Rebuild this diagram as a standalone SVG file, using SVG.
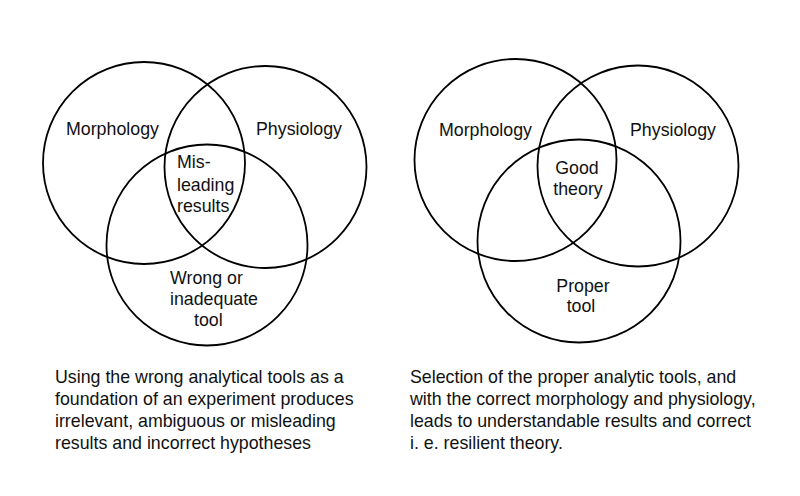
<svg xmlns="http://www.w3.org/2000/svg" width="800" height="496" viewBox="0 0 800 496">
<style>
.c{fill:none;stroke:#000;stroke-width:1.8}
text{font-family:"Liberation Sans",Arial,sans-serif;font-size:17.8px;fill:#111}
.m{text-anchor:middle}
</style>
<rect width="800" height="496" fill="#fff"/>
<g id="left">
<g id="l-morph"><circle class="c" cx="144" cy="163" r="101"/><text x="66" y="135">Morphology</text></g>
<g id="l-phys"><circle class="c" cx="265.5" cy="167" r="101"/><text x="256" y="135">Physiology</text></g>
<g id="l-tool"><circle class="c" cx="207" cy="245" r="100.5"/>
<text x="170" y="284">Wrong or</text><text x="170" y="305">inadequate</text><text x="194" y="326">tool</text></g>
<g id="l-center"><text x="177" y="168">Mis-</text><text x="177" y="191">leading</text><text x="177" y="212">results</text></g>
</g>
<g id="right">
<g id="r-morph"><circle class="c" cx="515.5" cy="160" r="101"/><text x="439" y="136">Morphology</text></g>
<g id="r-phys"><circle class="c" cx="638" cy="166" r="100.5"/><text x="630" y="136">Physiology</text></g>
<g id="r-tool"><circle class="c" cx="579" cy="241" r="101.5"/>
<text class="m" x="583" y="292">Proper</text><text class="m" x="581" y="312">tool</text></g>
<g id="r-center"><text class="m" x="577" y="174">Good</text><text class="m" x="578" y="195">theory</text></g>
</g>
<g id="captions">
<text x="55" y="383">Using the wrong analytical tools as a</text>
<text x="55" y="405">foundation of an experiment produces</text>
<text x="55" y="427">irrelevant, ambiguous or misleading</text>
<text x="55" y="449">results and incorrect hypotheses</text>
<text x="410" y="383">Selection of the proper analytic tools, and</text>
<text x="410" y="405">with the correct morphology and physiology,</text>
<text x="410" y="427">leads to understandable results and correct</text>
<text x="410" y="449">i. e. resilient theory.</text>
</g>
</svg>
